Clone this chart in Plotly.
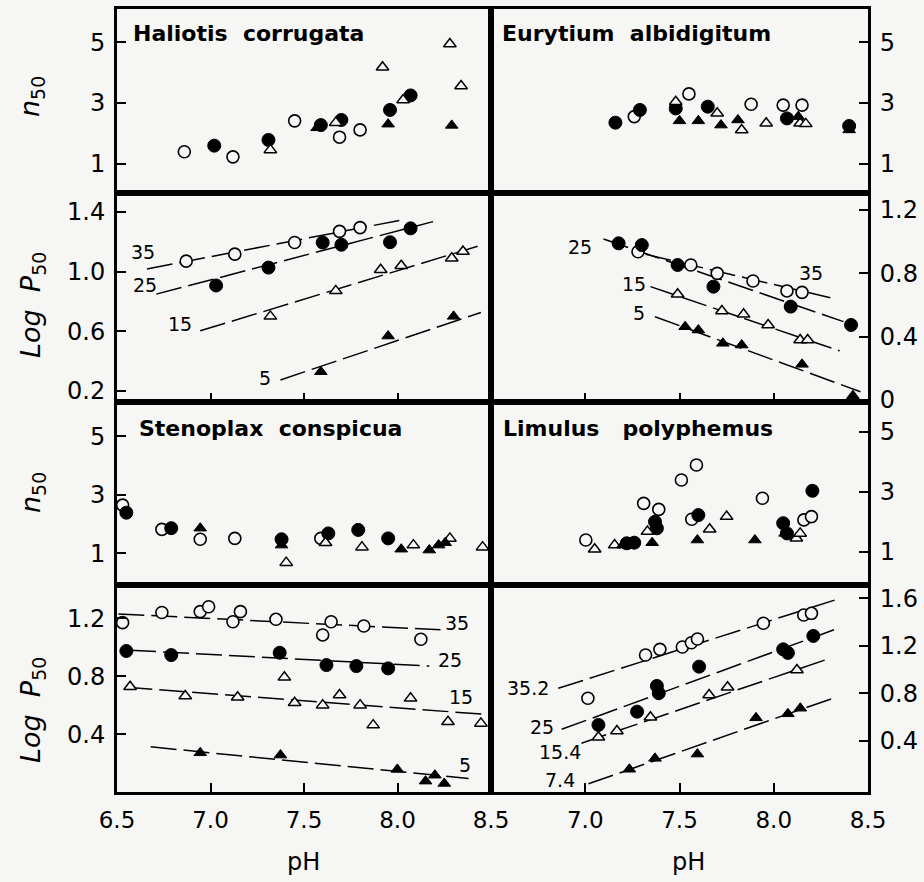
import plotly.graph_objects as go

# ---------------- data (pH, value) ----------------
# Panel 1: Haliotis corrugata, n50
HAL_N_35_X = [6.86, 7.12, 7.45, 7.69, 7.80]
HAL_N_35_Y = [1.39, 1.22, 2.41, 1.87, 2.11]
HAL_N_25_X = [7.02, 7.31, 7.59, 7.70, 7.96, 8.07]
HAL_N_25_Y = [1.59, 1.78, 2.27, 2.44, 2.77, 3.25]
HAL_N_15_X = [7.32, 7.67, 7.92, 8.03, 8.28, 8.34]
HAL_N_15_Y = [1.45, 2.35, 4.18, 3.10, 4.95, 3.56]
HAL_N_5_X = [7.57, 7.95, 8.29]
HAL_N_5_Y = [2.18, 2.30, 2.26]

# Panel 2: Eurytium albidigitum, n50
EUR_N_35_X = [7.26, 7.55, 7.88, 8.05, 8.15]
EUR_N_35_Y = [2.55, 3.30, 2.96, 2.93, 2.93]
EUR_N_25_X = [7.16, 7.29, 7.48, 7.65, 8.07, 8.40]
EUR_N_25_Y = [2.35, 2.77, 2.82, 2.88, 2.49, 2.24]
EUR_N_15_X = [7.48, 7.70, 7.83, 7.96, 8.14, 8.17]
EUR_N_15_Y = [3.04, 2.66, 2.11, 2.33, 2.33, 2.31]
EUR_N_5_X = [7.50, 7.60, 7.72, 7.81, 8.13, 8.40]
EUR_N_5_Y = [2.41, 2.41, 2.27, 2.44, 2.55, 2.11]

# Panel 3: Haliotis corrugata, log P50
HAL_P_35_X = [6.87, 7.13, 7.45, 7.69, 7.80]
HAL_P_35_Y = [1.07, 1.117, 1.195, 1.27, 1.295]
HAL_P_25_X = [7.03, 7.31, 7.60, 7.70, 7.96, 8.07]
HAL_P_25_Y = [0.907, 1.027, 1.195, 1.18, 1.197, 1.29]
HAL_P_15_X = [7.32, 7.67, 7.91, 8.02, 8.29, 8.35]
HAL_P_15_Y = [0.70, 0.871, 1.012, 1.039, 1.09, 1.135]
HAL_P_5_X = [7.59, 7.95, 8.30]
HAL_P_5_Y = [0.329, 0.568, 0.70]
HAL_FIT_X = [[6.66, 8.04], [6.71, 8.19], [6.945, 8.455], [7.374, 8.446]]
HAL_FIT_Y = [[1.018, 1.35], [0.849, 1.335], [0.603, 1.18], [0.274, 0.726]]
HAL_LAB = ["35", "25", "15", "5"]
HAL_LAB_X = [6.64, 6.65, 6.838, 7.294]
HAL_LAB_Y = [1.132, 0.909, 0.646, 0.289]

# Panel 4: Eurytium albidigitum, log P50
EUR_P_35_X = [7.28, 7.56, 7.70, 7.89, 8.07, 8.15]
EUR_P_35_Y = [0.937, 0.853, 0.80, 0.752, 0.689, 0.68]
EUR_P_25_X = [7.177, 7.30, 7.49, 7.68, 8.09, 8.41]
EUR_P_25_Y = [0.99, 0.979, 0.853, 0.716, 0.59, 0.474]
EUR_P_15_X = [7.49, 7.725, 7.84, 7.97, 8.14, 8.18]
EUR_P_15_Y = [0.668, 0.562, 0.541, 0.474, 0.379, 0.379]
EUR_P_5_X = [7.53, 7.60, 7.73, 7.83, 8.15, 8.42]
EUR_P_5_Y = [0.463, 0.442, 0.358, 0.347, 0.225, 0.027]
EUR_FIT_X = [[7.32, 8.30], [7.097, 8.37], [7.346, 8.35], [7.37, 8.46]]
EUR_FIT_Y = [[0.92, 0.646], [1.017, 0.495], [0.716, 0.31], [0.526, 0.052]]
EUR_LAB = ["35", "25", "15", "5"]
EUR_LAB_X = [8.20, 6.973, 7.257, 7.284]
EUR_LAB_Y = [0.80, 0.968, 0.733, 0.548]

# Panel 5: Stenoplax conspicua, n50
STE_N_35_X = [6.53, 6.74, 6.945, 7.13, 7.59]
STE_N_35_Y = [2.65, 1.82, 1.48, 1.51, 1.51]
STE_N_25_X = [6.55, 6.79, 7.38, 7.63, 7.79, 7.95]
STE_N_25_Y = [2.39, 1.86, 1.48, 1.68, 1.80, 1.51]
STE_N_15_X = [7.405, 7.615, 7.81, 8.085, 8.28, 8.455]
STE_N_15_Y = [0.68, 1.36, 1.21, 1.28, 1.51, 1.21]
STE_N_5_X = [6.945, 7.38, 8.02, 8.17, 8.22, 8.255]
STE_N_5_Y = [1.86, 1.28, 1.14, 1.11, 1.28, 1.36]

# Panel 6: Limulus polyphemus, n50
LIM_N_35_X = [7.003, 7.31, 7.39, 7.51, 7.59, 7.565, 7.94, 8.16, 8.20]
LIM_N_35_Y = [1.39, 2.61, 2.41, 3.39, 3.89, 2.08, 2.78, 2.06, 2.17]
LIM_N_25_X = [7.22, 7.26, 7.37, 7.38, 7.60, 8.05, 8.07, 8.205]
LIM_N_25_Y = [1.28, 1.30, 2.0, 1.78, 2.22, 1.95, 1.61, 3.03]
LIM_N_15_X = [7.05, 7.156, 7.33, 7.66, 7.75, 8.12, 8.14]
LIM_N_15_Y = [1.08, 1.22, 1.67, 1.75, 2.17, 1.45, 1.61]
LIM_N_5_X = [7.20, 7.355, 7.595, 7.90, 8.06]
LIM_N_5_Y = [1.22, 1.30, 1.39, 1.39, 1.61]

# Panel 7: Stenoplax conspicua, log P50
STE_P_35_X = [6.53, 6.74, 6.945, 6.99, 7.12, 7.16, 7.35, 7.60, 7.645, 7.82, 8.125]
STE_P_35_Y = [1.17, 1.24, 1.246, 1.28, 1.176, 1.246, 1.193, 1.085, 1.176, 1.147, 1.055]
STE_P_25_X = [6.55, 6.79, 7.37, 7.62, 7.78, 7.95]
STE_P_25_Y = [0.974, 0.946, 0.962, 0.877, 0.870, 0.854]
STE_P_15_X = [6.57, 6.865, 7.145, 7.395, 7.45, 7.60, 7.69, 7.80, 7.87, 8.07, 8.27, 8.446]
STE_P_15_Y = [0.727, 0.663, 0.654, 0.792, 0.616, 0.60, 0.670, 0.60, 0.462, 0.647, 0.485, 0.474]
STE_P_5_X = [6.945, 7.374, 7.999, 8.15, 8.20, 8.25]
STE_P_5_Y = [0.271, 0.255, 0.156, 0.075, 0.116, 0.059]
STE_FIT_X = [[6.507, 8.23], [6.57, 8.17], [6.55, 8.47], [6.68, 8.38]]
STE_FIT_Y = [[1.23, 1.12], [0.98, 0.87], [0.723, 0.536], [0.312, 0.093]]
STE_LAB = ["35", "25", "15", "5"]
STE_LAB_X = [8.32, 8.28, 8.34, 8.36]
STE_LAB_Y = [1.17, 0.91, 0.654, 0.186]

# Panel 8: Limulus polyphemus, log P50
LIM_P_35_X = [7.014, 7.32, 7.396, 7.515, 7.563, 7.595, 7.945, 8.159, 8.20]
LIM_P_35_Y = [0.757, 1.122, 1.17, 1.19, 1.226, 1.257, 1.39, 1.46, 1.474]
LIM_P_25_X = [7.07, 7.275, 7.38, 7.39, 7.604, 8.05, 8.075, 8.21]
LIM_P_25_Y = [0.532, 0.644, 0.861, 0.80, 1.024, 1.17, 1.14, 1.283]
LIM_P_15_X = [7.07, 7.168, 7.346, 7.657, 7.755, 8.123]
LIM_P_15_Y = [0.428, 0.481, 0.597, 0.785, 0.85, 0.996]
LIM_P_5_X = [7.234, 7.37, 7.595, 7.906, 8.075, 8.141]
LIM_P_5_Y = [0.158, 0.25, 0.286, 0.592, 0.626, 0.673]
LIM_FIT_X = [[6.857, 8.342], [6.875, 8.342], [6.98, 8.288], [7.017, 8.319]]
LIM_FIT_Y = [[0.841, 1.595], [0.495, 1.348], [0.378, 1.089], [0.035, 0.76]]
LIM_LAB = ["35.2", "25", "15.4", "7.4"]
LIM_LAB_X = [6.697, 6.77, 6.866, 6.866]
LIM_LAB_Y = [0.84, 0.517, 0.306, 0.07]

SPECIES = ["Haliotis\u00a0\u00a0corrugata", "Eurytium\u00a0\u00a0albidigitum",
           "Stenoplax\u00a0\u00a0conspicua", "Limulus\u00a0\u00a0\u00a0polyphemus"]
N_TICKS = [1, 3, 5]
XTICKS_LEFT = [6.5, 7.0, 7.5, 8.0, 8.5]
XTICKS_RIGHT = [7.0, 7.5, 8.0, 8.5]

# ---------------- styling / layout ----------------
W, H = 924, 882
BG = "#f6f6f4"
FONT = "DejaVu Sans"
XL = [117 / W, 491 / W]
XR = [491 / W, 868 / W]
ROWS = [(9, 193), (193, 402), (402, 585), (585, 792)]

def ydom(r):
    t, b = ROWS[r]
    return [1 - b / H, 1 - t / H]

STY = {
    "o35": dict(symbol="circle", size=12, color=BG, line=dict(color="black", width=1.6)),
    "f25": dict(symbol="circle", size=13, color="black", line=dict(color="black", width=1)),
    "o15": dict(symbol="triangle-up", size=11, color=BG, line=dict(color="black", width=1.5)),
    "f5": dict(symbol="triangle-up", size=11, color="black", line=dict(color="black", width=1)),
}

fig = go.Figure()

def add_fits(k, fx, fy):
    for xs, ys in zip(fx, fy):
        fig.add_trace(go.Scatter(x=xs, y=ys, mode="lines", xaxis=f"x{k}", yaxis=f"y{k}",
                                 line=dict(color="black", width=1.5, dash="26px,7px"),
                                 showlegend=False, hoverinfo="skip"))

def add_pts(k, sets):
    for key, xs, ys in sets:
        fig.add_trace(go.Scatter(x=xs, y=ys, mode="markers", xaxis=f"x{k}", yaxis=f"y{k}",
                                 marker=STY[key], showlegend=False))

add_pts(1, [("o35", HAL_N_35_X, HAL_N_35_Y), ("f25", HAL_N_25_X, HAL_N_25_Y),
            ("o15", HAL_N_15_X, HAL_N_15_Y), ("f5", HAL_N_5_X, HAL_N_5_Y)])
add_pts(2, [("o35", EUR_N_35_X, EUR_N_35_Y), ("f25", EUR_N_25_X, EUR_N_25_Y),
            ("o15", EUR_N_15_X, EUR_N_15_Y), ("f5", EUR_N_5_X, EUR_N_5_Y)])
add_fits(3, HAL_FIT_X, HAL_FIT_Y)
add_pts(3, [("o35", HAL_P_35_X, HAL_P_35_Y), ("f25", HAL_P_25_X, HAL_P_25_Y),
            ("o15", HAL_P_15_X, HAL_P_15_Y), ("f5", HAL_P_5_X, HAL_P_5_Y)])
add_fits(4, EUR_FIT_X, EUR_FIT_Y)
add_pts(4, [("o35", EUR_P_35_X, EUR_P_35_Y), ("f25", EUR_P_25_X, EUR_P_25_Y),
            ("o15", EUR_P_15_X, EUR_P_15_Y), ("f5", EUR_P_5_X, EUR_P_5_Y)])
add_pts(5, [("o35", STE_N_35_X, STE_N_35_Y), ("f25", STE_N_25_X, STE_N_25_Y),
            ("o15", STE_N_15_X, STE_N_15_Y), ("f5", STE_N_5_X, STE_N_5_Y)])
add_pts(6, [("o35", LIM_N_35_X, LIM_N_35_Y), ("f25", LIM_N_25_X, LIM_N_25_Y),
            ("o15", LIM_N_15_X, LIM_N_15_Y), ("f5", LIM_N_5_X, LIM_N_5_Y)])
add_fits(7, STE_FIT_X, STE_FIT_Y)
add_pts(7, [("o35", STE_P_35_X, STE_P_35_Y), ("f25", STE_P_25_X, STE_P_25_Y),
            ("o15", STE_P_15_X, STE_P_15_Y), ("f5", STE_P_5_X, STE_P_5_Y)])
add_fits(8, LIM_FIT_X, LIM_FIT_Y)
add_pts(8, [("o35", LIM_P_35_X, LIM_P_35_Y), ("f25", LIM_P_25_X, LIM_P_25_Y),
            ("o15", LIM_P_15_X, LIM_P_15_Y), ("f5", LIM_P_5_X, LIM_P_5_Y)])

YRANGES = {1: [0.025, 6.107], 2: [0.025, 6.107], 3: [0.126, 1.527], 4: [-0.013, 1.308],
           5: [-0.086, 6.18], 6: [-0.11, 5.99], 7: [0.0, 1.43], 8: [-0.034, 1.713]}
YTICKS = {1: N_TICKS, 2: N_TICKS, 3: [0.2, 0.6, 1.0, 1.4], 4: [0, 0.4, 0.8, 1.2],
          5: N_TICKS, 6: N_TICKS, 7: [0.4, 0.8, 1.2], 8: [0.4, 0.8, 1.2, 1.6]}

def fmt(v, k):
    if k in (1, 2, 5, 6):
        return str(int(v))
    if v == 0:
        return "0"
    return f"{v:.1f}"

lay = {}
for k in range(1, 9):
    row = (k - 1) // 2
    right = (k % 2 == 0)
    xd = XR if right else XL
    xa = dict(domain=xd, range=[6.5, 8.5], anchor=f"y{k}", showline=True, mirror=True,
              linewidth=3, linecolor="black", showgrid=False, zeroline=False, automargin=False,
              tickfont=dict(family=FONT, size=23, color="black"))
    if row in (1, 3):
        xt = XTICKS_RIGHT if right else XTICKS_LEFT
        xa.update(ticks="inside", ticklen=9, tickwidth=2, tickcolor="black",
                  tickvals=xt, ticktext=[f"{v:.1f}" for v in xt],
                  showticklabels=(row == 3), ticklabelstandoff=5)
    else:
        xa.update(ticks="", showticklabels=False)
    yt = YTICKS[k]
    ya = dict(domain=ydom(row), range=YRANGES[k], anchor=f"x{k}", showline=True, mirror=True,
              linewidth=3, linecolor="black", showgrid=False, zeroline=False, automargin=False,
              ticks="inside", ticklen=9, tickwidth=2, tickcolor="black",
              tickvals=yt, ticktext=[fmt(v, k) for v in yt],
              side="right" if right else "left", ticklabelstandoff=4,
              tickfont=dict(family=FONT, size=24, color="black"))
    lay[f"xaxis{k}"] = xa
    lay[f"yaxis{k}"] = ya

ann = []
# species names
for i, (sx, sy) in enumerate([(131, 33), (500, 33), (137, 428), (501, 428)]):
    ann.append(dict(text=f"<b>{SPECIES[i]}</b>", xref="paper", yref="paper", x=sx / W, y=1 - sy / H,
                    xanchor="left", yanchor="middle", showarrow=False,
                    font=dict(family=FONT, size=22, color="black")))
# line labels
for k, labs, lx, ly in [(3, HAL_LAB, HAL_LAB_X, HAL_LAB_Y), (4, EUR_LAB, EUR_LAB_X, EUR_LAB_Y),
                        (7, STE_LAB, STE_LAB_X, STE_LAB_Y), (8, LIM_LAB, LIM_LAB_X, LIM_LAB_Y)]:
    for t, x, y in zip(labs, lx, ly):
        ann.append(dict(text=t, xref=f"x{k}", yref=f"y{k}", x=x, y=y, showarrow=False,
                        xanchor="center", yanchor="middle",
                        font=dict(family=FONT, size=19, color="black")))
# axis titles
for t, cy in [("<i>n</i><sub>50</sub>", 97), ("<i>Log  P</i><sub>50</sub>", 305),
              ("<i>n</i><sub>50</sub>", 493), ("<i>Log  P</i><sub>50</sub>", 710)]:
    ann.append(dict(text=t, xref="paper", yref="paper", x=32 / W, y=1 - cy / H, textangle=-90,
                    showarrow=False, xanchor="center", yanchor="middle",
                    font=dict(family=FONT, size=27, color="black")))
for cx in [303, 688]:
    ann.append(dict(text="pH", xref="paper", yref="paper", x=cx / W, y=1 - 862 / H,
                    showarrow=False, xanchor="center", yanchor="middle",
                    font=dict(family=FONT, size=24, color="black")))

fig.update_layout(width=W, height=H, margin=dict(l=0, r=0, t=0, b=0, pad=0),
                  paper_bgcolor=BG, plot_bgcolor=BG, showlegend=False,
                  annotations=ann, **lay)

fig.write_html("out.html", config={"displayModeBar": False},
               post_script="document.body.style.margin='0';document.body.style.overflow='hidden';")
